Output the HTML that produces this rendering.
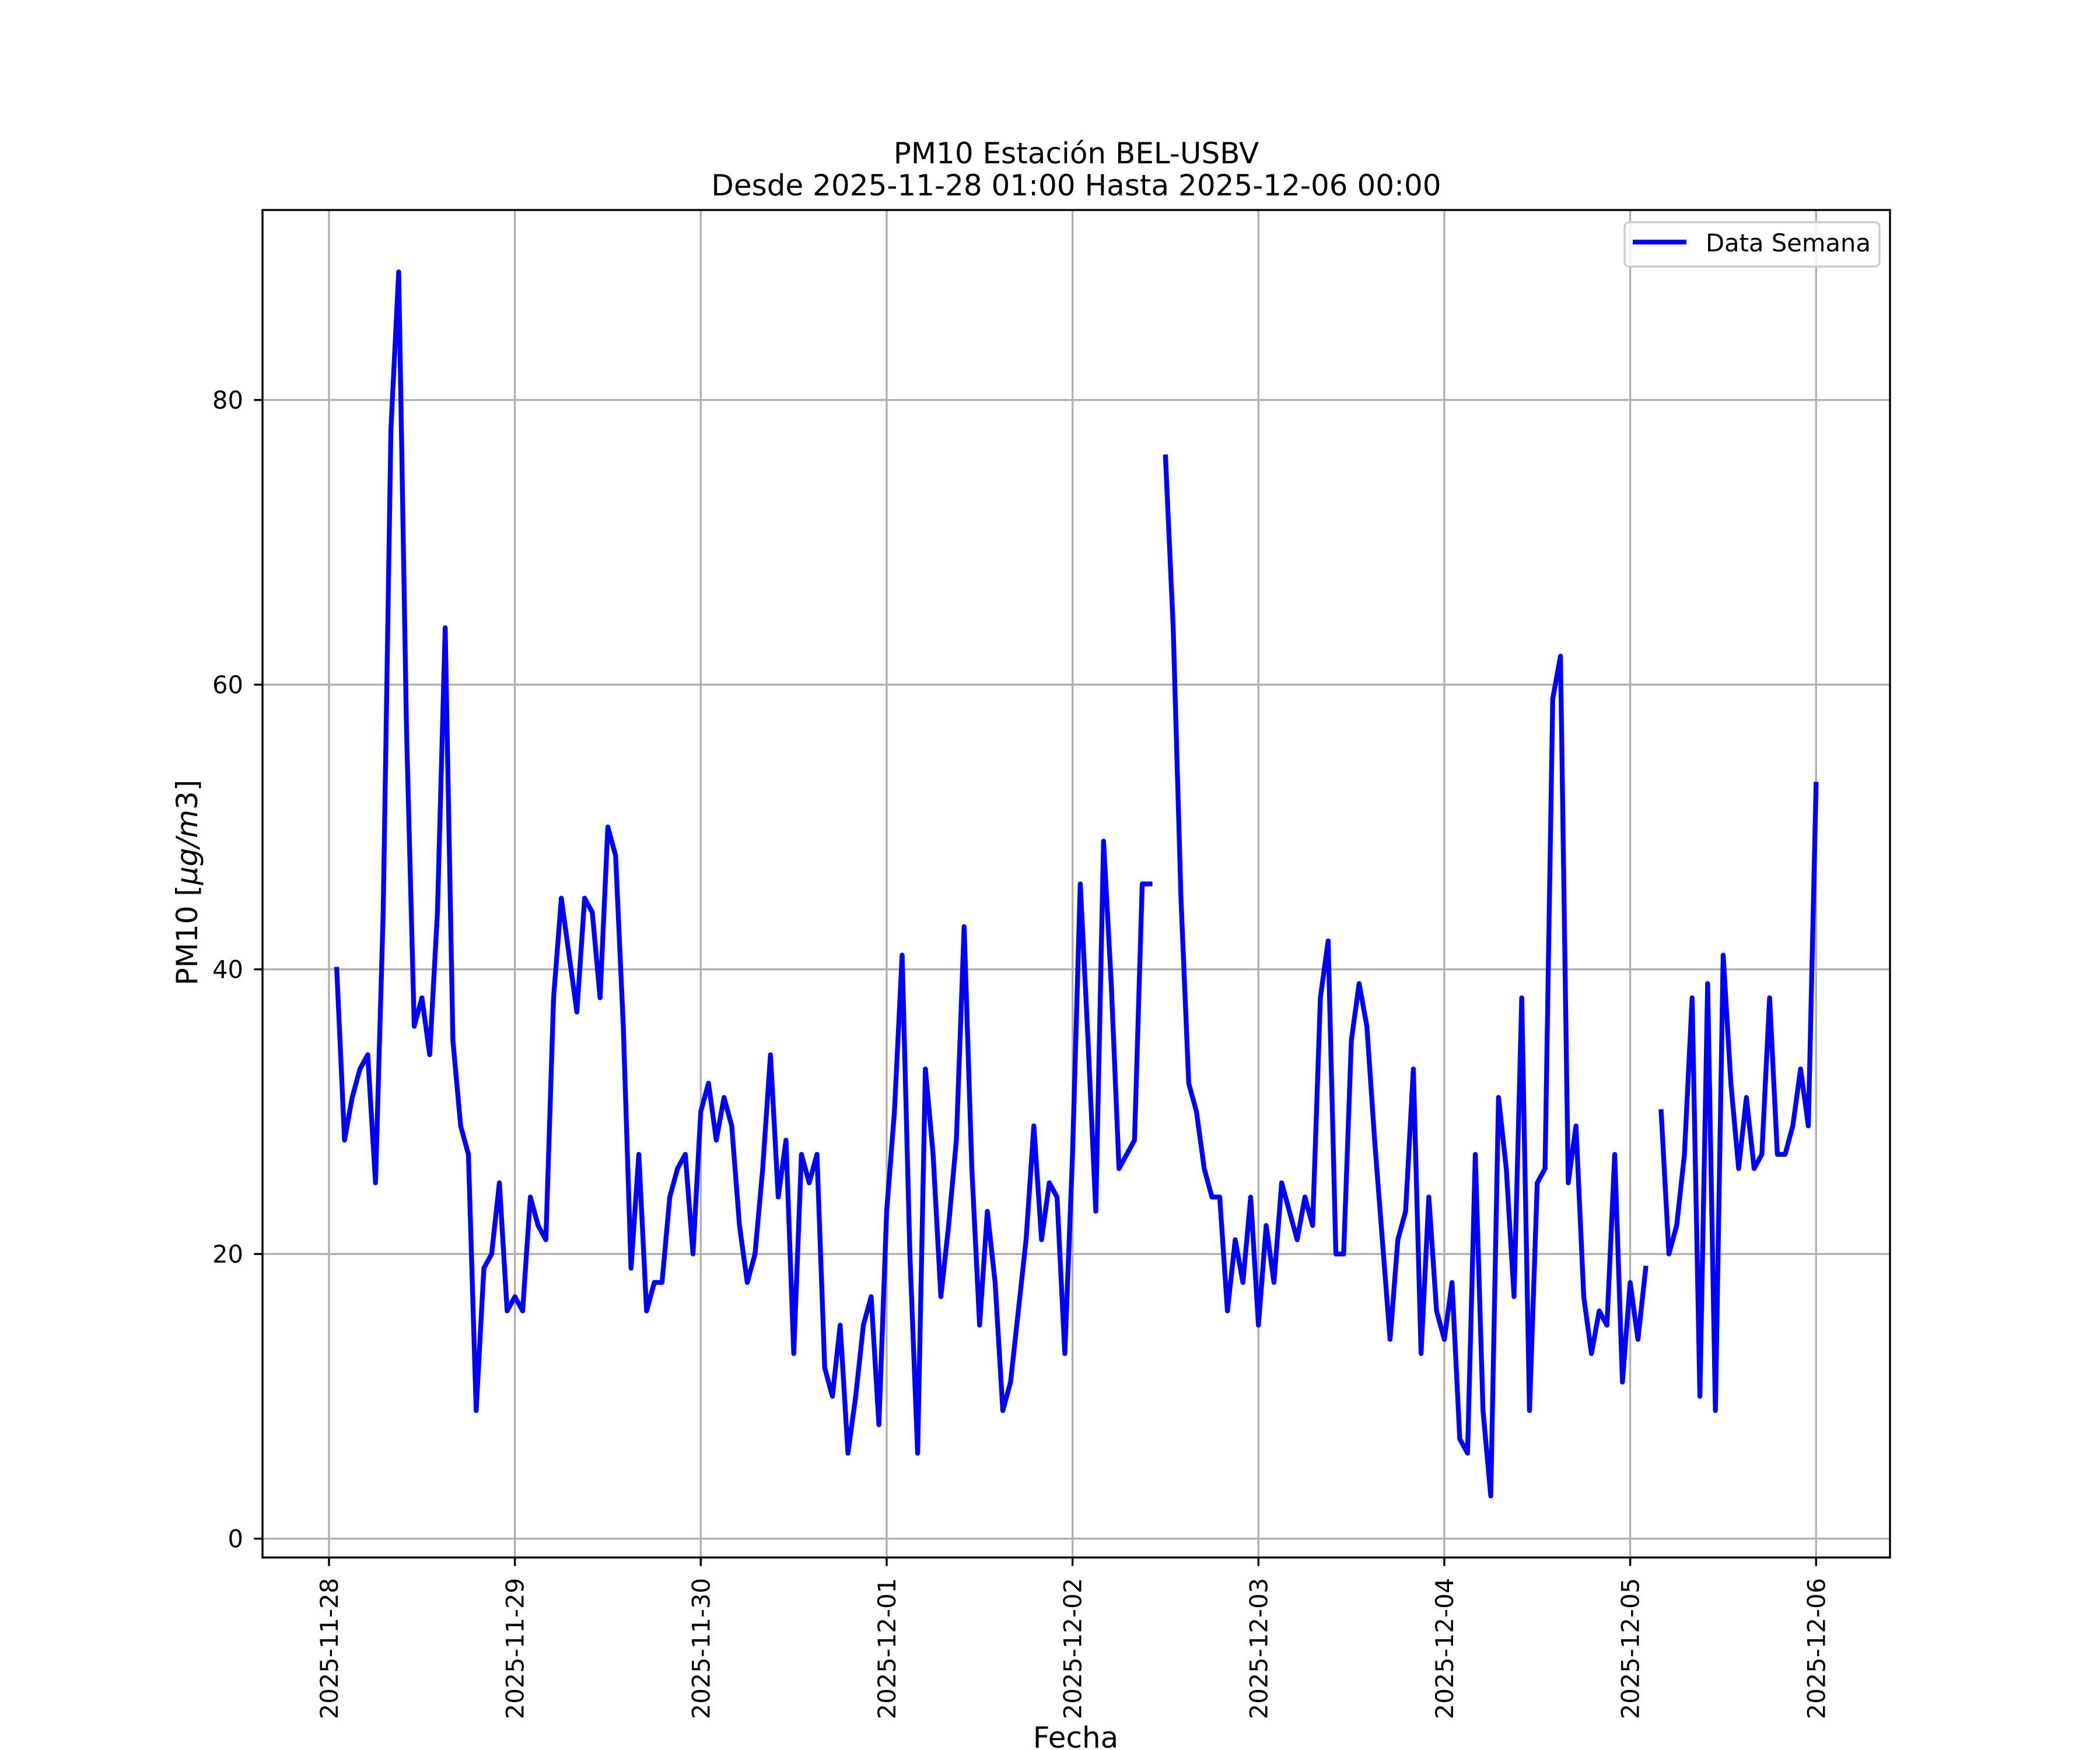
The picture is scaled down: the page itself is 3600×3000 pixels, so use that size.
<!DOCTYPE html>
<html><head><meta charset="utf-8"><style>
html,body{margin:0;padding:0;background:#fff;}
svg{display:block;font-family:"DejaVu Sans","Liberation Sans",sans-serif;}
</style></head><body>
<svg id="chart" width="3600" height="3000" viewBox="0 0 3600 3000" xmlns="http://www.w3.org/2000/svg">
<rect width="3600" height="3000" fill="#fff"/>
<text x="1845" y="280" font-size="50" text-anchor="middle">PM10 Estación BEL-USBV</text>
<text x="1845" y="335" font-size="50" text-anchor="middle">Desde 2025-11-28 01:00 Hasta 2025-12-06 00:00</text>
<g id="grid"></g>
<g id="series"></g>
<rect x="450" y="360" width="2790" height="2310" fill="none" stroke="#000" stroke-width="3.4"/>
<g id="ticks"></g>
<text transform="translate(338,1513) rotate(-90)" font-size="50" text-anchor="middle">PM10 [<tspan font-style="italic">μg/m</tspan>3]</text>
<text x="1844" y="2996" font-size="50" text-anchor="middle">Fecha</text>
<g>
<rect x="2785" y="381" width="437" height="76" rx="8" fill="#fff" fill-opacity="0.8" stroke="#cccccc" stroke-width="3.4"/>
<line x1="2799" y1="415" x2="2891" y2="415" stroke="#0000ff" stroke-width="8.33"/>
<text x="2924" y="431" font-size="41.7">Data Semana</text>
</g>
</svg>
<script>
const yTicks = [0, 20, 40, 60, 80];
const xTickLabels = ["2025-11-28","2025-11-29","2025-11-30","2025-12-01","2025-12-02","2025-12-03","2025-12-04","2025-12-05","2025-12-06"];
const startHour = 1;
const pm10Day1 = [40,28,31,33,34,25,44,78,89,57,36,38,34,44,64,35,29,27,9,19,20,25,16,17];
const pm10Day2 = [16,24,22,21,38,45,41,37,45,44,38,50,48,36,19,27,16,18,18,24,26,27,20,30];
const pm10Day3 = [32,28,31,29,22,18,20,26,34,24,28,13,27,25,27,12,10,15,6,10,15,17,8,23];
const pm10Day4 = [30,41,20,6,33,27,17,22,28,43,26,15,23,18,9,11,16,21,29,21,25,24,13,27];
const pm10Day5 = [46,35,23,49,39,26,27,28,46,46,null,76,64,45,32,30,26,24,24,16,21,18,24,15];
const pm10Day6 = [22,18,25,23,21,24,22,38,42,20,20,35,39,36,28,21,14,21,23,33,13,24,16,14];
const pm10Day7 = [18,7,6,27,9,3,31,26,17,38,9,25,26,59,62,25,29,17,13,16,15,27,11,18];
const pm10Day8 = [14,19,null,30,20,22,27,38,10,39,9,41,32,26,31,26,27,38,27,27,29,33,29,53];
const pm10 = [].concat(pm10Day1,pm10Day2,pm10Day3,pm10Day4,pm10Day5,pm10Day6,pm10Day7,pm10Day8);

const NS = "http://www.w3.org/2000/svg";
const X0 = 564, PXDAY = 318.66;
const Y0 = 2637.7, PXUNIT = 24.4;
const xScale = h => X0 + h * PXDAY / 24;
const yScale = v => Y0 - v * PXUNIT;
const grid = document.getElementById('grid');
const ticks = document.getElementById('ticks');
const series = document.getElementById('series');
function mk(tag, attrs){const e=document.createElementNS(NS,tag);for(const k in attrs)e.setAttribute(k,attrs[k]);return e;}

yTicks.forEach(v=>{
  const y=yScale(v);
  const g=mk('line',{x1:450,x2:3240,y1:y,y2:y,stroke:'#b0b0b0','stroke-width':3.4});
  
  
  grid.appendChild(g);
  const t=mk('line',{x1:435.4,x2:450,y1:y,y2:y,stroke:'#000','stroke-width':3.4});
  
  
  ticks.appendChild(t);
  const l=mk('text',{x:417,y:y+15,'font-size':41.7,'text-anchor':'end'});
  
  
  l.textContent=v;
  ticks.appendChild(l);
});
xTickLabels.forEach((s,i)=>{
  const x=xScale(i*24);
  const g=mk('line',{x1:x,x2:x,y1:360,y2:2670,stroke:'#b0b0b0','stroke-width':3.4});
  
  
  grid.appendChild(g);
  const t=mk('line',{x1:x,x2:x,y1:2670,y2:2684.6,stroke:'#000','stroke-width':3.4});
  
  
  ticks.appendChild(t);
  const l=mk('text',{transform:`translate(${x+15},2705) rotate(-90)`,'font-size':41.7,'text-anchor':'end'});
  
  
  l.textContent=s;
  ticks.appendChild(l);
});
let d='', pen=false;
pm10.forEach((v,i)=>{
  if(v===null||v===undefined){pen=false;return;}
  const x=xScale(startHour+i).toFixed(1), y=yScale(v).toFixed(1);
  d+=(pen?'L':'M')+x+' '+y+' ';
  pen=true;
});
const p=mk('path',{d:d,fill:'none',stroke:'#0000ff','stroke-width':8.33,'stroke-linejoin':'round','stroke-linecap':'square'});


series.appendChild(p);
</script>
</body></html>
